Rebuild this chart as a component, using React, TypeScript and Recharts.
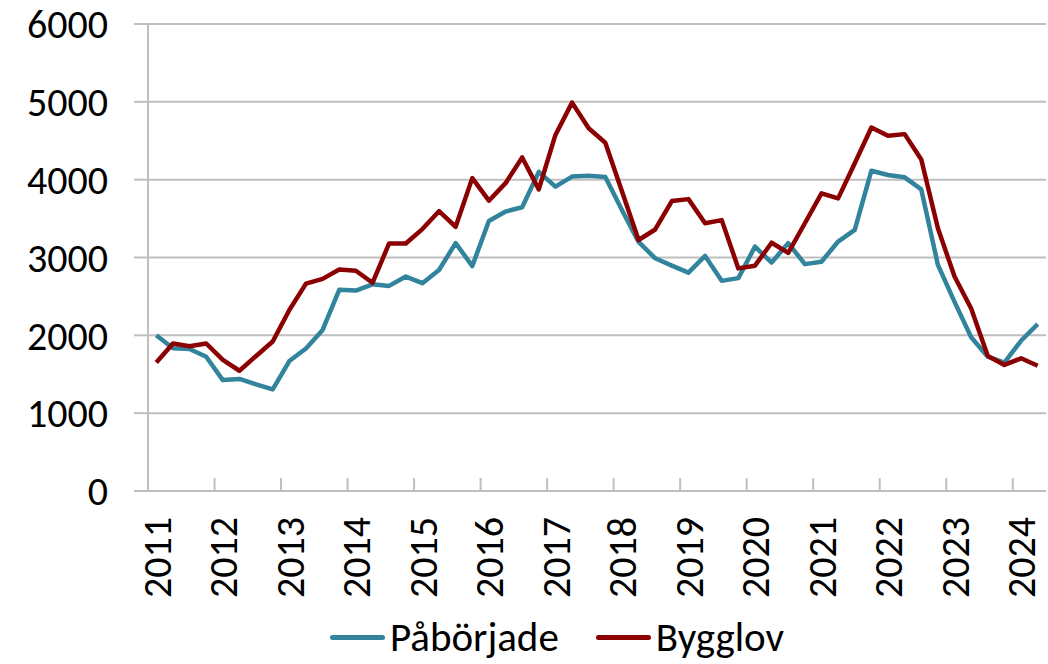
import { LineChart, Line, XAxis, YAxis, CartesianGrid, Legend } from 'recharts';

// kvartal 2011K1 - 2024K2
const quarters = [
    '2011K1', '2011K2', '2011K3', '2011K4',
    '2012K1', '2012K2', '2012K3', '2012K4',
    '2013K1', '2013K2', '2013K3', '2013K4',
    '2014K1', '2014K2', '2014K3', '2014K4',
    '2015K1', '2015K2', '2015K3', '2015K4',
    '2016K1', '2016K2', '2016K3', '2016K4',
    '2017K1', '2017K2', '2017K3', '2017K4',
    '2018K1', '2018K2', '2018K3', '2018K4',
    '2019K1', '2019K2', '2019K3', '2019K4',
    '2020K1', '2020K2', '2020K3', '2020K4',
    '2021K1', '2021K2', '2021K3', '2021K4',
    '2022K1', '2022K2', '2022K3', '2022K4',
    '2023K1', '2023K2', '2023K3', '2023K4',
    '2024K1', '2024K2',
];

const paborjade = [
    2000, 1835, 1825, 1725, 1425, 1440, 1370, 1305,
    1670, 1830, 2070, 2585, 2575, 2655, 2635, 2755,
    2670, 2840, 3185, 2890, 3470, 3590, 3645, 4100,
    3910, 4040, 4050, 4035, 3610, 3200, 2990, 2895,
    2805, 3020, 2700, 2735, 3140, 2935, 3185, 2915,
    2945, 3205, 3355, 4115, 4060, 4030, 3875, 2905,
    2430, 1975, 1725, 1650, 1930, 2145,
];

const bygglov = [
    1650, 1895, 1860, 1895, 1685, 1545, 1735, 1920,
    2325, 2665, 2725, 2845, 2830, 2675, 3180, 3180,
    3365, 3595, 3395, 4020, 3730, 3955, 4285, 3875,
    4575, 4990, 4660, 4475, 3850, 3225, 3360, 3725,
    3750, 3440, 3480, 2860, 2895, 3190, 3060, 3440,
    3825, 3760, 4210, 4670, 4565, 4585, 4260, 3375,
    2755, 2345, 1735, 1620, 1705, 1610,
];

const yTicks = [0, 1000, 2000, 3000, 4000, 5000, 6000];

const series = [
    { key: 'paborjade', name: 'Påbörjade', color: '#31849B' },
    { key: 'bygglov', name: 'Bygglov', color: '#8B0000' },
];

const data = quarters.map((q, i) => ({ q, paborjade: paborjade[i], bygglov: bygglov[i] }));

const FONT = 'Carlito, Calibri, Lato, sans-serif';
const GRID = '#BFBFBF';
const HALF_STEP = 8.315;

const YearTick = (props: any) => {
    const { x, y, payload } = props;
    const ty = y + 26;
    return (
        <g>
            <line x1={x - HALF_STEP} x2={x - HALF_STEP} y1={y} y2={y - 13} stroke={GRID} strokeWidth={2} />
            <text
                x={x}
                y={ty}
                transform={`rotate(-90 ${x} ${ty})`}
                textAnchor="end"
                dy="0.36em"
                fill="#000"
                fontSize={40}
                fontFamily={FONT}
            >
                {String(payload.value).slice(0, 4)}
            </text>
        </g>
    );
};

const LegendContent = () => (
    <div style={{ display: 'flex', alignItems: 'center', marginLeft: 330, fontFamily: FONT, fontSize: 41, color: '#000' }}>
        {series.map((s, i) => (
            <div key={s.key} style={{ display: 'flex', alignItems: 'center', marginLeft: i ? 37 : 0 }}>
                <span style={{ display: 'inline-block', width: 55, height: 5, borderRadius: 3, background: s.color, marginRight: 5 }} />
                <span>{s.name}</span>
            </div>
        ))}
    </div>
);

const App = () => {
    return (
        <div style={{ position: 'absolute', left: 0, top: 0, width: 1048, height: 664, background: '#fff' }}>
            <LineChart width={1048} height={664} data={data} margin={{ top: 24, right: 2, left: 0, bottom: 0 }}>
                <CartesianGrid vertical={false} stroke={GRID} strokeWidth={2} />
                <XAxis
                    dataKey="q"
                    interval={3}
                    height={173}
                    padding={{ left: HALF_STEP, right: HALF_STEP }}
                    tick={<YearTick />}
                    tickLine={false}
                    tickSize={0}
                    tickMargin={0}
                    axisLine={{ stroke: GRID, strokeWidth: 2 }}
                />
                <YAxis
                    width={148}
                    domain={[0, 6000]}
                    ticks={yTicks}
                    tickSize={14}
                    tickMargin={26}
                    tickLine={{ stroke: GRID, strokeWidth: 2 }}
                    axisLine={{ stroke: GRID, strokeWidth: 2 }}
                    tick={{ fill: '#000', fontSize: 40, fontFamily: FONT }}
                />
                <Legend
                    verticalAlign="middle"
                    content={<LegendContent />}
                    wrapperStyle={{ top: 612, left: 0, width: 1048 }}
                />
                {series.map((s) => (
                    <Line
                        key={s.key}
                        type="linear"
                        dataKey={s.key}
                        name={s.name}
                        stroke={s.color}
                        strokeWidth={4.5}
                        strokeLinejoin="round"
                        dot={false}
                        activeDot={false}
                        isAnimationActive={false}
                    />
                ))}
            </LineChart>
        </div>
    );
};

export default App;
